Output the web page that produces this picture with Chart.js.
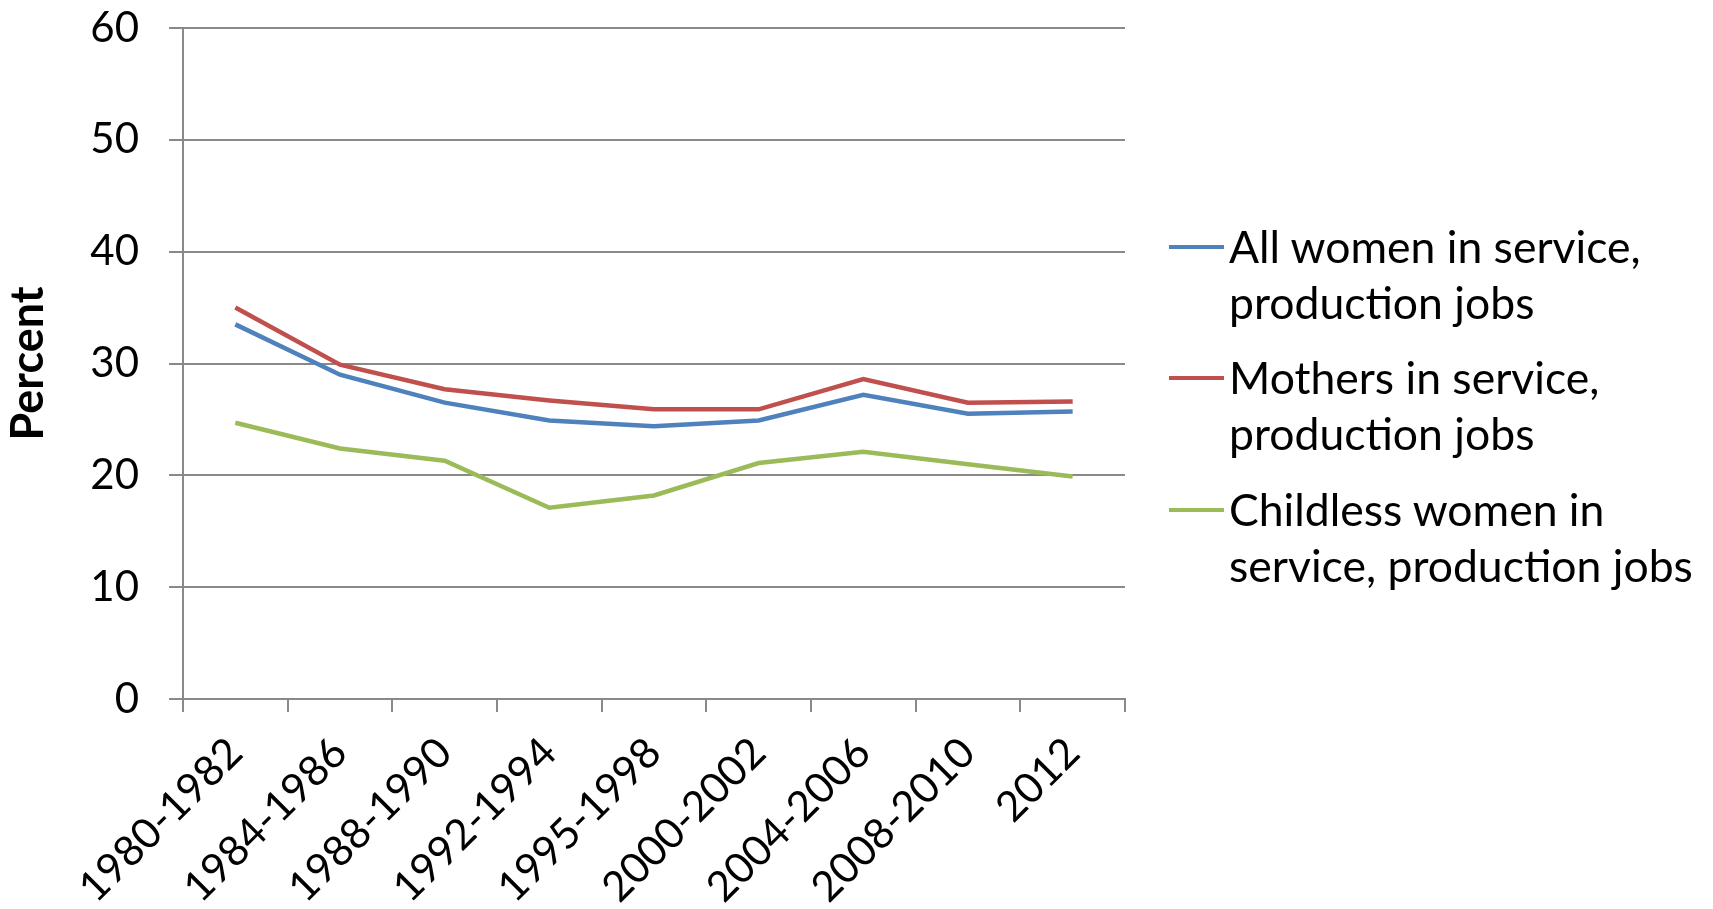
<!DOCTYPE html>
<html>
<head>
<meta charset="utf-8">
<script src="https://cdn.jsdelivr.net/npm/chart.js@4/dist/chart.umd.min.js"></script>
<style>
  html, body { margin: 0; padding: 0; background: #fff; }
  #wrap { position: relative; width: 1713px; height: 909px; }
  #legend { position: absolute; left: 0; top: 0; font-family: Lato, sans-serif; font-size: 44.5px; line-height: 56px; color: #000; }
  .item { position: absolute; left: 1229px; white-space: nowrap; }
  .swatch { position: absolute; left: -60px; top: 27px; width: 55px; height: 4px; }
</style>
</head>
<body>
<div id="wrap">
  <canvas id="myChart" width="1713" height="909"></canvas>
  <div id="legend"></div>
</div>
<script>
// periods on the x axis
var categories = ['1980-1982', '1984-1986', '1988-1990', '1992-1994', '1995-1998', '2000-2002', '2004-2006', '2008-2010', '2012'];

// percent values
var allWomen  = [33.5, 29.0, 26.5, 24.9, 24.4, 24.9, 27.2, 25.5, 25.7];
var mothers   = [35.0, 29.9, 27.7, 26.7, 25.9, 25.9, 28.6, 26.5, 26.6];
var childless = [24.7, 22.4, 21.3, 17.1, 18.2, 21.1, 22.1, 21.0, 19.9];

var seriesNames = [
    ['All women in service,', 'production jobs'],
    ['Mothers in service,', 'production jobs'],
    ['Childless women in', 'service, production jobs']
];
var seriesColors = ['#4F81BD', '#C0504D', '#9BBB59'];

var yMin = 0, yMax = 60, yStep = 10;

var gridColor = '#898989';
var font = 'Lato';

var ctx = document.getElementById('myChart').getContext('2d');
var chart = new Chart(ctx, {
    type: 'line',
    data: {
        labels: categories,
        datasets: [allWomen, mothers, childless].map(function (vals, i) {
            return {
                label: seriesNames[i].join(' '),
                data: vals,
                borderColor: seriesColors[i],
                backgroundColor: seriesColors[i],
                borderWidth: 4.5,
                pointRadius: 0,
                tension: 0,
                fill: false
            };
        })
    },
    options: {
        responsive: false,
        animation: false,
        layout: {
            padding: { left: 0, top: 28, right: 1713 - 1125, bottom: 0 }
        },
        plugins: {
            legend: { display: false },
            tooltip: { enabled: false }
        },
        scales: {
            x: {
                offset: true,
                grid: {
                    offset: true,
                    drawOnChartArea: false,
                    drawTicks: true,
                    tickLength: 13,
                    color: gridColor,
                    lineWidth: 2
                },
                border: { color: gridColor, width: 2 },
                ticks: {
                    color: '#000',
                    font: { family: font, size: 42 },
                    minRotation: 45,
                    maxRotation: 45,
                    padding: 16,
                    autoSkip: false
                },
                afterFit: function (s) { s.height = 909 - 699; }
            },
            y: {
                min: yMin,
                max: yMax,
                ticks: {
                    stepSize: yStep,
                    color: '#000',
                    font: { family: font, size: 42 },
                    padding: 30
                },
                grid: {
                    color: gridColor,
                    lineWidth: 2,
                    tickLength: 14
                },
                border: { color: gridColor, width: 2 },
                title: {
                    display: true,
                    text: 'Percent',
                    color: '#000',
                    font: { family: font, size: 45, weight: 'bold' },
                    padding: { top: 1, bottom: 0 }
                },
                afterFit: function (s) {
                    s.width = 183;
                    s.paddingTop = 0;
                    s.paddingBottom = 0;
                }
            }
        }
    }
});

// legend next to the plot, with the same line breaks as the original
var legendTops = [247, 378, 510];
var legend = document.getElementById('legend');
seriesNames.forEach(function (lines, i) {
    var item = document.createElement('div');
    item.className = 'item';
    item.style.top = (legendTops[i] - 29) + 'px';
    var sw = document.createElement('span');
    sw.className = 'swatch';
    sw.style.background = seriesColors[i];
    item.appendChild(sw);
    lines.forEach(function (t, k) {
        if (k) item.appendChild(document.createElement('br'));
        item.appendChild(document.createTextNode(t));
    });
    legend.appendChild(item);
});
</script>
</body>
</html>
